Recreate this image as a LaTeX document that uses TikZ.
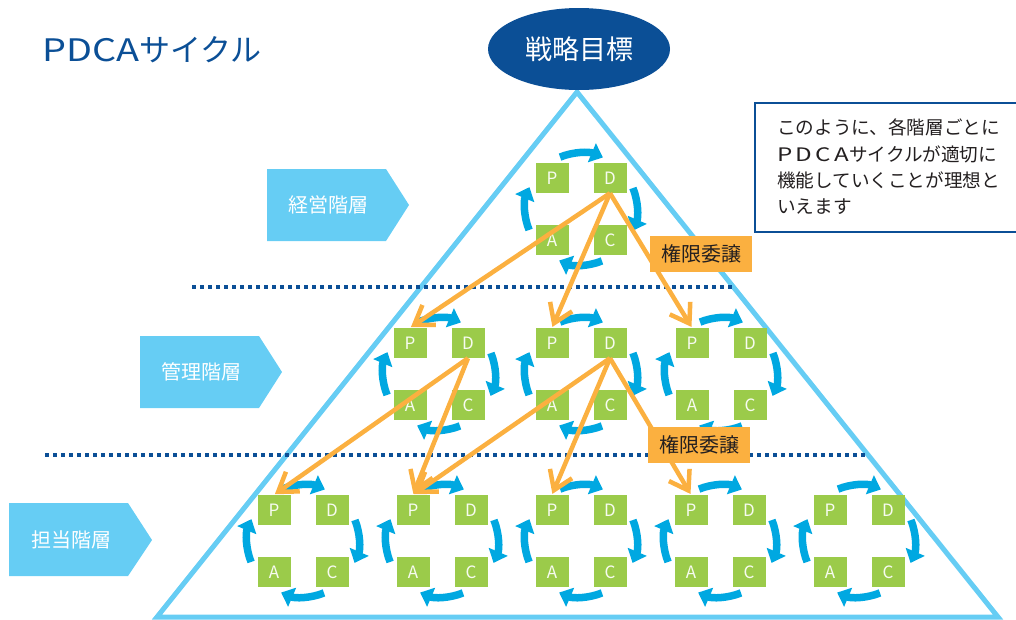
\documentclass[tikz,border=0pt]{standalone}
\usepackage{fontspec}
\setmainfont{Noto Sans CJK JP}
\newfontfamily\titlelatin{Noto Sans CJK JP}[FakeStretch=1.22]
\newfontfamily\notelatin{Noto Sans CJK JP}[FakeStretch=1.3,LetterSpace=18]
\usetikzlibrary{arrows.meta,shapes.geometric}
\definecolor{dkblue}{HTML}{0B4F96}
\definecolor{ltblue}{HTML}{66CDF4}
\definecolor{cyc}{HTML}{00A8E1}
\definecolor{grn}{HTML}{9BCB4A}
\definecolor{org}{HTML}{FBB040}
\definecolor{txt}{HTML}{231F20}
\begin{document}
\begin{tikzpicture}[x=1pt,y=1pt,
  sq/.style={fill=grn, minimum width=33pt, minimum height=30pt, inner sep=0pt,
    text=white!92!grn, font=\fontsize{17}{17}\selectfont},
  cycarr/.style={draw=cyc, line width=7.5pt, -{Triangle[length=12pt,width=20pt]}},
  deleg/.style={draw=org, line width=4.5pt, -{Straight Barb[length=18pt,width=24pt]}, shorten >=1pt},
  dlg/.style={fill=org, text=txt, minimum width=102pt, minimum height=36pt, inner sep=0pt,
    font=\fontsize{20}{20}\selectfont},
  lvl/.style={fill=ltblue},
  lvltext/.style={text=white, font=\fontsize{20}{20}\selectfont},
  dotl/.style={draw=dkblue, line width=4pt, dash pattern=on 4pt off 4pt},
  pdca/.pic={
    \node[sq] (-P) at (-29,31) {P};
    \node[sq] (-D) at (29,31) {D};
    \node[sq] (-A) at (-29,-31) {A};
    \node[sq] (-C) at (29,-31) {C};
    \draw[cycarr] (112:56pt) arc[start angle=112,end angle=67,radius=56pt];
    \draw[cycarr] (22:56pt) arc[start angle=22,end angle=-23,radius=56pt];
    \draw[cycarr] (-68:56pt) arc[start angle=-68,end angle=-113,radius=56pt];
    \draw[cycarr] (-158:56pt) arc[start angle=-158,end angle=-203,radius=56pt];
  }
]
\useasboundingbox (0,0) rectangle (1016,-619);
\clip (0,0) rectangle (1016,-619);

% triangle
\coordinate (apex) at (577,-92);
\coordinate (bl) at (157,-617);
\coordinate (br) at (998,-617);
\draw[ltblue, line width=5pt] (apex) -- (br) -- (bl) -- cycle;

% dotted separators
\draw[dotl] (192,-287) -- (733,-287);
\draw[dotl] (45,-455) -- (868,-455);

% level labels
\fill[lvl] (267,-169) -- (386,-169) -- (409,-205) -- (386,-241) -- (267,-241) -- cycle;
\node[lvltext] (lv1) at (328,-205) {経営階層};
\fill[lvl] (140,-336) -- (259,-336) -- (282,-372) -- (259,-408) -- (140,-408) -- cycle;
\node[lvltext] (lv2) at (201,-372) {管理階層};
\fill[lvl] (9,-503) -- (128,-503) -- (152,-540) -- (128,-576) -- (9,-576) -- cycle;
\node[lvltext] (lv3) at (71,-540) {担当階層};

% PDCA units
\pic (t) at (581,-209) {pdca};
\pic (m1) at (439,-374) {pdca};
\pic (m2) at (581,-374) {pdca};
\pic (m3) at (721,-374) {pdca};
\pic (b1) at (303,-541) {pdca};
\pic (b2) at (442,-541) {pdca};
\pic (b3) at (581,-541) {pdca};
\pic (b4) at (720,-541) {pdca};
\pic (b5) at (859,-541) {pdca};

% delegation arrows
\draw[deleg] (t-D.south) -- (m1-P.north);
\draw[deleg] (t-D.south) -- (m2-P.north);
\draw[deleg] (t-D.south) -- (m3-P.north);
\draw[deleg] (m1-D.south) -- (b1-P.north);
\draw[deleg] (m1-D.south) -- (b2-P.north);
\draw[deleg] (m2-D.south) -- (b2-P.north);
\draw[deleg] (m2-D.south) -- (b3-P.north);
\draw[deleg] (m2-D.south) -- (b4-P.north);

\node[dlg] (g1) at (701,-254) {権限委譲};
\node[dlg] (g2) at (699,-445) {権限委譲};

% goal
\node[ellipse, fill=dkblue, minimum width=182pt, minimum height=82pt, inner sep=0pt,
  text=white, font=\fontsize{27}{27}\selectfont] (goal) at (579,-49) {戦略目標};

% title
\node[anchor=west, inner sep=0pt, text=dkblue, font=\fontsize{31}{31}\selectfont] (title) at (42,-50) {{\titlelatin PDCA}サイクル};

% note box
\draw[dkblue, line width=2.5pt] (755,-103) rectangle (1040,-232);
\node[anchor=north west, inner sep=0pt, align=left, text=txt,
  font=\fontsize{18.6}{26.3}\selectfont] (note) at (777,-119)
  {このように、各階層ごとに\\{\notelatin PDCA}サイクルが適切に\\機能していくことが理想と\\いえます};
\end{tikzpicture}
\end{document}
